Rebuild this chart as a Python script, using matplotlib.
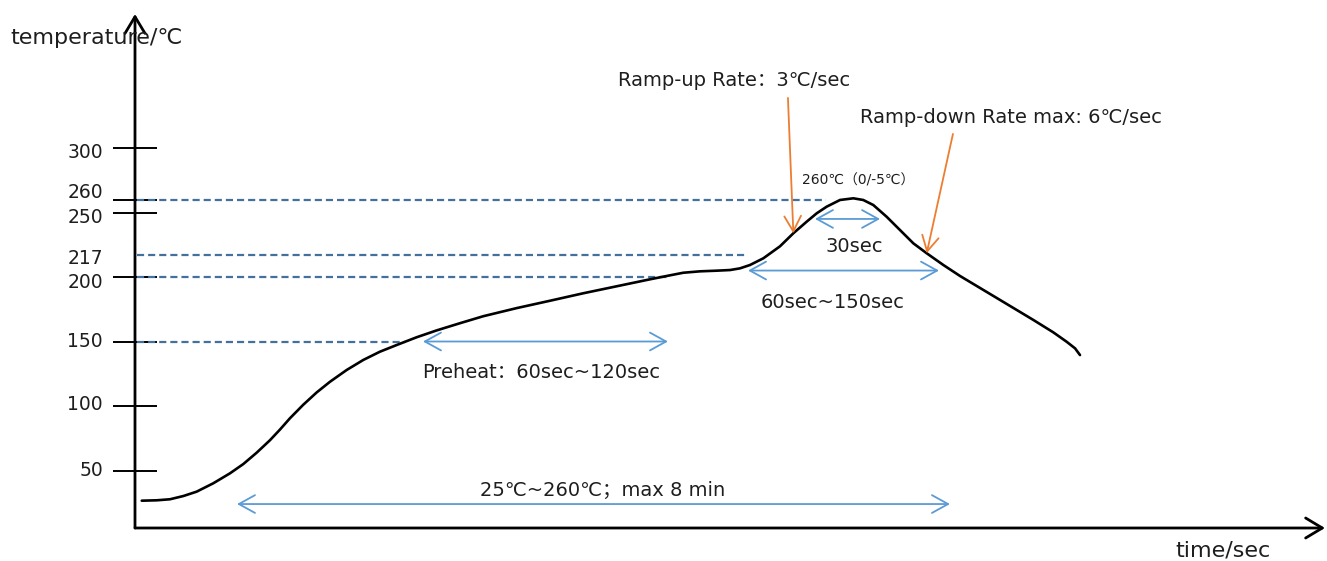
import matplotlib
matplotlib.use('Agg')
import matplotlib.pyplot as plt
from matplotlib.transforms import offset_copy

plt.rcParams['font.family'] = ['DejaVu Sans', 'Noto Sans CJK SC']

# reflow profile (schematic): time in s, temperature in degC
time_s = [4.5, 14.5, 23.3, 32.2, 41.1, 52.2, 63.3, 72.2, 81.1, 90.0, 96.7, 103.3,
          112.2, 121.1, 130.0, 141.1, 152.2, 163.3, 174.5, 187.8, 201.1, 216.7,
          232.2, 254.5, 276.7, 298.9, 321.1, 343.3, 354.5, 365.5, 376.7, 387.8,
          396.7, 403.3, 410.0, 418.9, 430.0, 438.9, 447.8, 454.5, 461.1, 470.0,
          478.9, 485.5, 492.2, 501.1, 510.0, 518.9, 527.8, 538.9, 550.0, 576.7,
          598.9, 612.2, 621.1, 626.7, 630.0]
temp_c = [26.6, 26.9, 27.7, 30.2, 33.6, 40.1, 47.8, 55.0, 63.8, 73.5, 81.8, 90.5,
          101.0, 110.5, 118.8, 127.9, 135.7, 142.1, 147.3, 153.3, 158.6, 164.2,
          169.6, 175.9, 181.6, 187.4, 192.8, 198.2, 200.8, 203.3, 204.4, 204.9,
          205.4, 206.7, 209.3, 214.5, 223.8, 233.9, 242.9, 249.4, 254.5, 259.7,
          261.0, 259.7, 255.8, 246.7, 236.4, 226.1, 218.4, 209.3, 200.8, 182.2,
          166.7, 157.1, 149.8, 144.7, 139.5]

tick_temps = [50, 100, 150, 200, 250, 260, 300]
extra_label_temps = [217]

# dashed guide levels and where they meet the curve
guide_temps = [260, 217, 200, 150]
guide_end_s = [460.7, 408.7, 356.7, 180.0]

# duration arrows: (start s, end s, level degC)
preheat_span = (192.0, 355.3, 150)
liquidus_span = (408.7, 536.0, 205)
peak_span = (453.3, 496.7, 245)
total_span = (68.0, 543.3, 24)

ramp_up_tip = (438.9, 233.9)
ramp_down_tip = (527.8, 218.4)

PX_PER_S = 1.5
PX_PER_C = 1.29
W, H = 1327, 561
X0, Y0 = 135, 528          # axis corner, pixels from top-left

BLACK = 'black'
GUIDE = '#44709D'
SPAN = '#5B9BD5'
ORANGE = '#ED7D31'
INK = '#1e1e1e'

fig = plt.figure(figsize=(W / 100, H / 100), dpi=100)
ax = fig.add_axes([X0 / W, (H - Y0) / H, (W - X0) / W, Y0 / H])
t_max = (W - X0) / PX_PER_S
T_min = 50 - (Y0 - 470.5) / PX_PER_C
T_max = 50 + 470.5 / PX_PER_C
ax.set_xlim(0, t_max)
ax.set_ylim(T_min, T_max)
for s in ax.spines.values():
    s.set_visible(False)
ax.set_xticks([])
ax.set_yticks(tick_temps)
ax.tick_params(axis='y', direction='inout', length=32, width=1.4, color=BLACK,
               labelleft=False)

# axes with open arrow heads
axis_arrow = dict(arrowstyle='->,head_length=0.6,head_width=0.36', color=BLACK,
                  lw=2.0, mutation_scale=20, shrinkA=0, shrinkB=0)
ax.annotate('', xy=(0, 50 + (470.5 - 14) / PX_PER_C), xytext=(0, T_min),
            arrowprops=axis_arrow, annotation_clip=False)
ax.annotate('', xy=((W - 2 - X0) / PX_PER_S, T_min), xytext=(0, T_min),
            arrowprops=axis_arrow, annotation_clip=False)

# tick labels, a few nudged apart so they do not collide
nudge_px = {300: -4, 260: 7, 250: -5, 217: -3, 200: -5, 100: 1}
for T in tick_temps + extra_label_temps:
    tr = offset_copy(ax.get_yaxis_transform(), fig=fig, x=-32,
                     y=nudge_px.get(T, 0), units='dots')
    ax.text(0, T, str(T), transform=tr, ha='right', va='center',
            fontsize=13.5, color=INK)

# guide lines
ax.hlines(guide_temps, 1.5, guide_end_s, colors=GUIDE, linestyles=(0, (3.2, 1.8)),
          lw=1.6)

# profile curve
ax.plot(time_s, temp_c, color=BLACK, lw=1.9, solid_capstyle='round',
        solid_joinstyle='round', zorder=3)

# duration arrows
span_arrow = dict(arrowstyle='<->,head_length=0.58,head_width=0.32', color=SPAN,
                  lw=1.3, mutation_scale=20, shrinkA=0, shrinkB=0)
for a, b, lvl in [preheat_span, liquidus_span, peak_span, total_span]:
    ax.annotate('', xy=(b, lvl), xytext=(a, lvl), arrowprops=span_arrow)

txt = dict(fontsize=14, color=INK, va='center')
ax.text(191.3, 125.6, 'Preheat：60sec~120sec', ha='left', **txt)
ax.text(465.3, 180.6, '60sec~150sec', ha='center', **txt)
ax.text(479.3, 223.3, '30sec', ha='center', **txt)
ax.text(311.7, 34.9, '25℃~260℃；max 8 min', ha='center', **txt)
ax.text(444.7, 275.0, '260℃（0/-5℃）', ha='left', fontsize=10, color=INK,
        va='center')

# ramp rate callouts
ramp_arrow = dict(arrowstyle='->,head_length=0.55,head_width=0.3', color=ORANGE,
                  lw=1.3, mutation_scale=20, shrinkA=0, shrinkB=0)
ax.text(322.0, 352.7, 'Ramp-up Rate：3℃/sec', ha='left', **txt)
ax.annotate('', xy=ramp_up_tip, xytext=(435.3, 338.8), arrowprops=ramp_arrow)
ax.text(483.3, 323.3, 'Ramp-down Rate max: 6℃/sec', ha='left', **txt)
ax.annotate('', xy=ramp_down_tip, xytext=(545.3, 310.9), arrowprops=ramp_arrow)

# axis titles
fig.text(10 / W, 1 - 38 / H, 'temperature/℃', ha='left', va='center', fontsize=16,
         color=INK)
fig.text(1175 / W, 1 - 550 / H, 'time/sec', ha='left', va='center', fontsize=16,
         color=INK)

fig.savefig('out.png', dpi=100, facecolor='white')
